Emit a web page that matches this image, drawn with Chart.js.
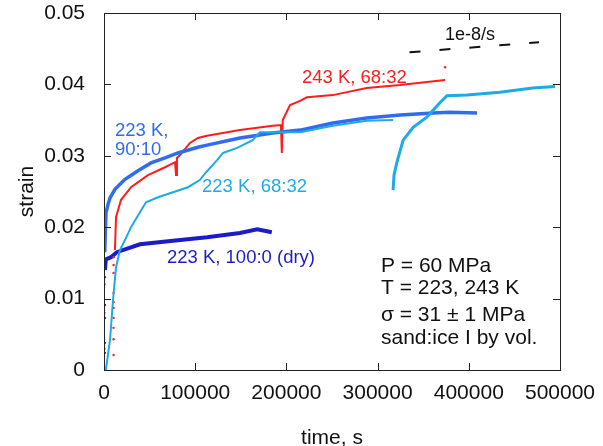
<!DOCTYPE html>
<html>
<head>
<meta charset="utf-8">
<script src="https://cdn.jsdelivr.net/npm/chart.js@4.4.1/dist/chart.umd.min.js"></script>
<style>
  html, body { margin: 0; padding: 0; background: #fff; }
  #wrap { width: 603px; height: 446px; }
</style>
</head>
<body>
<div id="wrap"><canvas id="strainChart" width="603" height="446"></canvas></div>
<script>
// --- data (time in s, strain) ---
const xTicks = [0, 100000, 200000, 300000, 400000, 500000];
const yTicks = [0, 0.01, 0.02, 0.03, 0.04, 0.05];

// 223 K, 100:0 (dry)
const dryInitT = [1000, 1000, 1000, 1000, 1000];
const dryInitS = [0.0024, 0.0038, 0.0073, 0.0091, 0.0130];
const dryT = [1000, 2000, 7700, 14000, 39500, 75700, 113000, 149000, 168000, 176000, 184000];
const dryS = [0.0140, 0.0155, 0.0158, 0.0165, 0.0176, 0.0181, 0.0186, 0.0192, 0.0197, 0.0195, 0.0193];

// 223 K, 90:10
const b90InitT = [500, 500, 500];
const b90InitS = [0.0030, 0.0080, 0.0120];
const b90T = [800, 1500, 2200, 4400, 6600, 12000, 23000, 37300, 51500, 66900, 81100, 103000, 113000,
              149000, 185000, 215000, 251000, 288000, 325000, 361000, 379000, 409000];
const b90S = [0.0165, 0.0195, 0.0220, 0.0232, 0.0241, 0.0253, 0.0267, 0.0279, 0.0290, 0.0297, 0.0304, 0.0312, 0.0315,
              0.0325, 0.0332, 0.0336, 0.0346, 0.0353, 0.0357, 0.0360, 0.0361, 0.0360];

// 243 K, 68:32
const redDotT = [10500, 10500, 10500, 10500, 10500, 10500, 10500, 10500, 10500, 10500, 374000];
const redDotS = [0.0021, 0.0043, 0.0059, 0.0073, 0.0087, 0.0095, 0.0108, 0.0136, 0.0147, 0.0158, 0.0424];
const redT = [12000, 13200, 18600, 29600, 48200, 66900, 77900, 79000, 80000, 83300, 94300, 103000, 113000,
              149000, 185000, 194000, 195000, 196000, 204000, 215000, 222500, 251000, 288000, 324500, 374000];
const redS = [0.0168, 0.0214, 0.0238, 0.0256, 0.0273, 0.0284, 0.0291, 0.0273, 0.0297, 0.0301, 0.0318, 0.0325, 0.0328,
              0.0336, 0.0342, 0.0343, 0.0304, 0.0350, 0.0371, 0.0377, 0.0382, 0.0385, 0.0395, 0.0399, 0.0406];

// 223 K, 68:32 (first loading and reload)
const lb1T = [2000, 6600, 9900, 13200, 17500, 23000, 29600, 46000, 59200, 92100, 105000, 112000, 124000,
              130500, 146000, 163000, 171000, 215000, 251000, 288000, 317000];
const lb1S = [0.0000, 0.0042, 0.0098, 0.0144, 0.0168, 0.0182, 0.0200, 0.0235, 0.0242, 0.0256, 0.0266, 0.0277, 0.0294,
              0.0304, 0.0311, 0.0322, 0.0333, 0.0333, 0.0342, 0.0349, 0.0350];
const lb2T = [317000, 318000, 321000, 328000, 339000, 354000, 368000, 376000, 398000, 434000, 470000, 494500];
const lb2S = [0.0252, 0.0273, 0.0290, 0.0322, 0.0340, 0.0354, 0.0374, 0.0384, 0.0385, 0.0389, 0.0395, 0.0397];

// reference slope 1e-8/s
const rateT = [335000, 477000];
const rateS = [0.0445, 0.0459];

const pts = (t, s) => t.map((v, i) => ({ x: v, y: s[i] }));

const RED = '#ff1c1c';
const BLUE = '#2f6cf0';
const LIGHT = '#1eaae4';
const DARK = '#1c1cc6';
const FONT = '"Liberation Sans", Arial, sans-serif';

// curve labels and notes, anchored in data coordinates (left edge, vertical middle)
const notes = [
  { text: '243 K, 68:32', t: 217000, s: 0.0409, color: RED, size: 18.5 },
  { text: '223 K,', t: 12000, s: 0.0335, color: BLUE, size: 18.5 },
  { text: '90:10', t: 12000, s: 0.0308, color: BLUE, size: 18.5 },
  { text: '223 K, 68:32', t: 107500, s: 0.0256, color: LIGHT, size: 18.5 },
  { text: '223 K, 100:0 (dry)', t: 69000, s: 0.0157, color: DARK, size: 18.5 },
  { text: '1e-8/s', t: 374000, s: 0.0469, color: '#111', size: 18 },
  { text: 'P = 60 MPa', t: 303700, s: 0.0146, color: '#111', size: 21 },
  { text: 'T = 223, 243 K', t: 303700, s: 0.0115, color: '#111', size: 21 },
  { text: 'σ = 31 ± 1 MPa', t: 303700, s: 0.0077, color: '#111', size: 21 },
  { text: 'sand:ice I by vol.', t: 303700, s: 0.0045, color: '#111', size: 21 }
];

// frame with inward ticks on all four sides + text notes
const framePlugin = {
  id: 'frame',
  afterDatasetsDraw(chart) {
    const { ctx, chartArea: a, scales: { x, y } } = chart;
    ctx.save();
    ctx.strokeStyle = '#222';
    ctx.lineWidth = 1;
    ctx.strokeRect(a.left + 0.5, a.top + 0.5, a.right - a.left, a.bottom - a.top);
    ctx.beginPath();
    xTicks.forEach(v => {
      const px = Math.round(x.getPixelForValue(v)) + 0.5;
      ctx.moveTo(px, a.bottom); ctx.lineTo(px, a.bottom - 7);
      ctx.moveTo(px, a.top); ctx.lineTo(px, a.top + 7);
    });
    yTicks.forEach(v => {
      const py = Math.round(y.getPixelForValue(v)) + 0.5;
      ctx.moveTo(a.left, py); ctx.lineTo(a.left + 7, py);
      ctx.moveTo(a.right, py); ctx.lineTo(a.right - 7, py);
    });
    ctx.stroke();

    ctx.textAlign = 'left';
    ctx.textBaseline = 'middle';
    notes.forEach(n => {
      ctx.fillStyle = n.color;
      ctx.font = n.size + 'px ' + FONT;
      ctx.fillText(n.text, x.getPixelForValue(n.t), y.getPixelForValue(n.s));
    });
    ctx.restore();
  }
};

new Chart(document.getElementById('strainChart'), {
  type: 'scatter',
  data: {
    datasets: [
      { data: pts(rateT, rateS), showLine: true, borderColor: '#111', borderWidth: 2, borderDash: [11, 19], pointRadius: 0 },
      { data: pts(lb1T, lb1S), showLine: true, borderColor: LIGHT, borderWidth: 2, pointRadius: 0 },
      { data: pts(lb2T, lb2S), showLine: true, borderColor: LIGHT, borderWidth: 3, pointRadius: 0 },
      { data: pts(b90InitT, b90InitS), backgroundColor: BLUE, pointRadius: 1.2, borderWidth: 0 },
      { data: pts(b90T, b90S), showLine: true, borderColor: BLUE, borderWidth: 3.5, pointRadius: 0 },
      { data: pts(redDotT, redDotS), backgroundColor: RED, pointRadius: 1.2, borderWidth: 0 },
      { data: pts(redT, redS), showLine: true, borderColor: RED, borderWidth: 2, pointRadius: 0 },
      { data: pts(dryInitT, dryInitS), backgroundColor: DARK, pointRadius: 1.2, borderWidth: 0 },
      { data: pts(dryT, dryS), showLine: true, borderColor: DARK, borderWidth: 4, pointRadius: 0 }
    ]
  },
  options: {
    responsive: false,
    animation: false,
    layout: { padding: { top: 13, right: 43, left: 0, bottom: 0 } },
    plugins: { legend: { display: false }, tooltip: { enabled: false } },
    scales: {
      x: {
        type: 'linear', min: 0, max: 500000,
        afterBuildTicks: s => { s.ticks = xTicks.map(v => ({ value: v })); },
        afterFit: s => { s.height = 76; s.paddingLeft = 0; s.paddingRight = 0; },
        grid: { display: false },
        border: { display: false },
        ticks: { color: '#111', padding: 3, maxRotation: 0, font: { family: FONT, size: 21 },
                 callback: v => String(v) },
        title: { display: true, text: 'time, s', color: '#111', padding: { top: 0, bottom: -3 },
                 font: { family: FONT, size: 21, lineHeight: 1 } }
      },
      y: {
        type: 'linear', min: 0, max: 0.05,
        afterBuildTicks: s => { s.ticks = yTicks.map(v => ({ value: v })); },
        afterFit: s => { s.width = 104; s.paddingTop = 0; s.paddingBottom = 0; },
        grid: { display: false },
        border: { display: false },
        ticks: { color: '#111', padding: 11, font: { family: FONT, size: 21 },
                 callback: v => (v === 0 ? '0' : v.toFixed(2)) },
        title: { display: true, text: 'strain', color: '#111', padding: { top: 17, bottom: 0 },
                 font: { family: FONT, size: 21, lineHeight: 1 } }
      }
    }
  },
  plugins: [framePlugin]
});
</script>
</body>
</html>
